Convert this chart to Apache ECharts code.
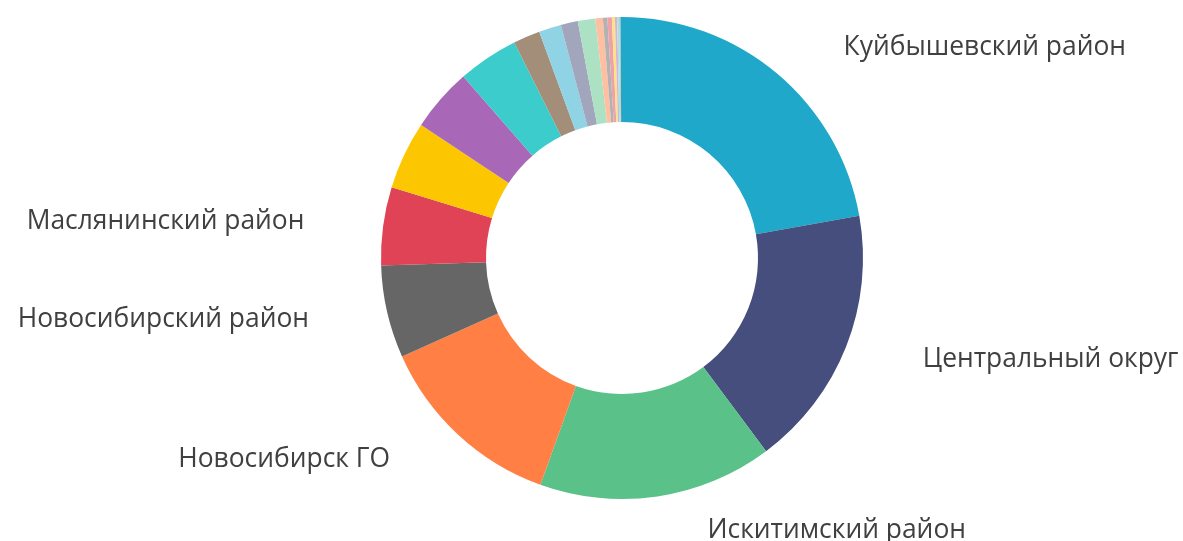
<!DOCTYPE html>
<html>
<head>
<meta charset="utf-8">
<script src="https://cdn.jsdelivr.net/npm/echarts@6/dist/echarts.min.js"></script>
<style>
  html, body { margin: 0; padding: 0; background: #fff; }
  #chart { width: 1183px; height: 541px; }
</style>
</head>
<body>
<div id="chart"></div>
<script>
// данные по районам (доля, %)
const names = [
  'Куйбышевский район', 'Центральный округ', 'Искитимский район', 'Новосибирск ГО',
  'Новосибирский район', 'Маслянинский район', 'Бердск ГО', 'Черепановский район',
  'Коченёвский район', 'Тогучинский район', 'Ордынский район', 'Мошковский район',
  'Колыванский район', 'Болотнинский район', 'Сузунский район', 'Каргатский район',
  'Чулымский район', 'Барабинский район', 'Татарский район', 'Карасукский район',
  'Купинский район'
]
const values = [
  22.2, 17.6, 15.7, 12.8, 6.2, 5.25, 4.56, 4.25, 4.06, 1.8, 1.5, 1.14, 1.17,
  0.5, 0.3, 0.3, 0.2, 0.15, 0.12, 0.1, 0.1
]
const colors = [
  '#1FA8C9', '#454E7C', '#5AC189', '#FF7F44', '#666666', '#E04355', '#FCC700',
  '#A868B7', '#3CCCCB', '#A38F79', '#8FD3E4', '#A1A6BD', '#ACE1C4', '#FEC0A1',
  '#B2B2B2', '#EFA1AA', '#FDE380', '#D3B3DA', '#9EE5E5', '#D1C6BC', '#1FA8C9'
]
const labelThreshold = 5

const chart = echarts.init(document.getElementById('chart'))

const option = {
  color: colors,
  animation: false,
  tooltip: { trigger: 'item' },
  series: [
    {
      type: 'pie',
      center: [622, 258],
      radius: [136, 241],
      startAngle: 90,
      clockwise: true,
      avoidLabelOverlap: false,
      data: names.map((n, i) => ({ name: n, value: values[i] })),
      itemStyle: { borderColor: '#fff', borderWidth: 0 },
      label: {
        position: 'outside',
        fontFamily: 'Open Sans',
        fontSize: 26.4,
        color: '#404040',
        distanceToLabelLine: 5,
        formatter: p => (p.percent >= labelThreshold ? p.name : '')
      },
      labelLine: { show: false, length: 34, length2: 40 }
    }
  ]
}

chart.setOption(option)
window.addEventListener('resize', () => chart.resize())
</script>
</body>
</html>
